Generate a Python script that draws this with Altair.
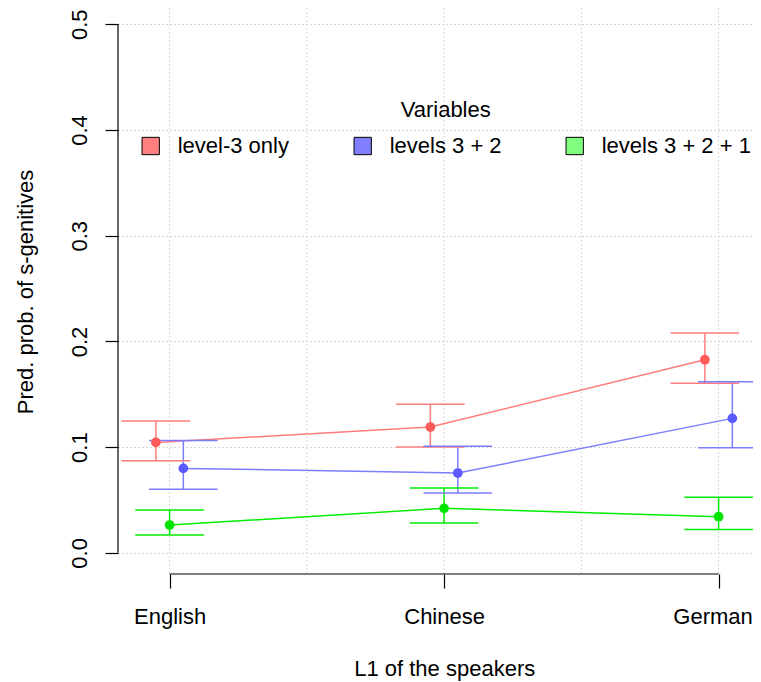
import json
import altair as alt
import pandas as pd

# ---- data ----
categories = ["English", "Chinese", "German"]
series = ["level-3 only", "levels 3 + 2", "levels 3 + 2 + 1"]

est_l3 = [0.1045, 0.119, 0.1827]
lo_l3 = [0.0871, 0.1001, 0.1604]
hi_l3 = [0.1247, 0.1405, 0.208]

est_l32 = [0.0799, 0.0755, 0.1272]
lo_l32 = [0.0601, 0.0566, 0.0994]
hi_l32 = [0.1064, 0.1008, 0.1619]

est_l321 = [0.0263, 0.0421, 0.0342]
lo_l321 = [0.0168, 0.0282, 0.0222]
hi_l321 = [0.0405, 0.0613, 0.0525]

y_ticks = [0.0, 0.1, 0.2, 0.3, 0.4, 0.5]
x_ticks = [1, 2, 3]
x_grid = [1, 1.5, 2, 2.5, 3]

# ---- style ----
dodge = [-0.05, 0.05, 0.0]
cap_half = 0.125
line_colors = ["#FF7C7C", "#7C7CFF", "#00EC00"]
point_colors = ["#FF5A5A", "#5A5AFF", "#00E400"]
legend_colors = ["#FF8080", "#8080FF", "#80FF80"]
FONT = "Liberation Sans"
W, H = 635, 566

rows = []
for s, est, lo, hi, d in zip(series,
                             [est_l3, est_l32, est_l321],
                             [lo_l3, lo_l32, lo_l321],
                             [hi_l3, hi_l32, hi_l321],
                             dodge):
    for i, c in enumerate(categories):
        xp = x_ticks[i] + d
        rows.append(dict(series=s, variable=s, cat=c, xpos=xp, xl=xp - cap_half,
                         xr=xp + cap_half, est=est[i], lo=lo[i], hi=hi[i]))
df = pd.DataFrame(rows)

xscale = alt.Scale(domain=[0.812, 0.812 + W / 274.5], nice=False, zero=False)
yscale = alt.Scale(domain=[-0.02, 0.5154], nice=False, zero=False)

label_expr = json.dumps(categories) + "[datum.value - 1]"
xaxis = alt.Axis(values=x_ticks, labelExpr=label_expr, domain=False, grid=False,
                 ticks=True, tickSize=14, tickColor="black", tickWidth=1.2,
                 labelFont=FONT, labelFontSize=22, labelColor="black",
                 labelPadding=18, labelFlush=False, labelOverlap=False,
                 labelOffset={"condition": {"test": "datum.value == 3", "value": -6},
                              "value": 0},
                 title="L1 of the speakers", titleFont=FONT, titleFontSize=22,
                 titleFontWeight="normal", titleColor="black",
                 titleX=326.2, titleY=101, titleBaseline="alphabetic",
                 titleAlign="center")
yaxis = alt.Axis(values=y_ticks, format=".1f", domain=False, grid=True,
                 gridColor="#CCCCCC", gridDash=[1.5, 2.5], gridWidth=1,
                 ticks=True, tickSize=13, tickColor="black", tickWidth=1.2,
                 labelFont=FONT, labelFontSize=22, labelColor="black",
                 labelAngle=270, labelAlign="center", labelBaseline="alphabetic",
                 labelPadding=18.6, labelFlush=False, labelOverlap=False,
                 title="Pred. prob. of s-genitives", titleFont=FONT,
                 titleFontSize=22, titleFontWeight="normal", titleColor="black",
                 titleAngle=270, titleX=-85.3, titleY=283.5,
                 titleAlign="center", titleBaseline="alphabetic")

X = lambda f: alt.X(f, scale=xscale, axis=xaxis)
Y = lambda f: alt.Y(f, scale=yscale, axis=yaxis)
# data-driven (sorted) domains, so these scales never merge with the legend's scale
stroke_enc = alt.Stroke("series:N", scale=alt.Scale(range=line_colors), legend=None)
fill_enc = alt.Fill("series:N", scale=alt.Scale(range=point_colors), legend=None)

# vertical dotted grid
vgrid = alt.Chart(pd.DataFrame({"g": x_grid})).mark_rule(
    color="#CCCCCC", strokeDash=[1.5, 2.5], strokeWidth=1
).encode(x=X("g:Q"), y=alt.value(0), y2=alt.value(H))

# R-style axis lines
xline = alt.Chart(pd.DataFrame({"a": [min(x_ticks)], "b": [max(x_ticks)]})).mark_rule(
    color="black", strokeWidth=1.2
).encode(x=X("a:Q"), x2="b:Q", y=alt.value(H))
yline = alt.Chart(pd.DataFrame({"a": [min(y_ticks)], "b": [max(y_ticks)]})).mark_rule(
    color="black", strokeWidth=1.2
).encode(y=Y("a:Q"), y2="b:Q", x=alt.value(0))

base = alt.Chart(df)

lines = base.mark_line(strokeWidth=1.5).encode(
    x=X("xpos:Q"), y=Y("est:Q"), stroke=stroke_enc, detail="series:N",
    order="xpos:Q")
stems = base.mark_rule(strokeWidth=1.5).encode(
    x=X("xpos:Q"), y=Y("lo:Q"), y2="hi:Q", stroke=stroke_enc)
caps_lo = base.mark_rule(strokeWidth=1.5).encode(
    x=X("xl:Q"), x2="xr:Q", y=Y("lo:Q"), stroke=stroke_enc)
caps_hi = base.mark_rule(strokeWidth=1.5).encode(
    x=X("xl:Q"), x2="xr:Q", y=Y("hi:Q"), stroke=stroke_enc)
points = base.mark_circle(size=95, opacity=1).encode(
    x=X("xpos:Q"), y=Y("est:Q"), fill=fill_enc)

legend_layer = base.transform_filter("false").mark_square(size=300).encode(
    x=X("xpos:Q"), y=Y("est:Q"),
    color=alt.Color("variable:N", scale=alt.Scale(domain=series, range=legend_colors),
                    legend=alt.Legend(
                        title="Variables", orient="none", legendX=21.7, legendY=92,
                        direction="horizontal", columns=3, gridAlign="all",
                        columnPadding=24, symbolType="square", symbolSize=300,
                        symbolStrokeColor="black", symbolStrokeWidth=1,
                        symbolOpacity=1,
                        labelOffset=16, labelFont=FONT,
                        labelFontSize=22, labelColor="black", titleFont=FONT,
                        titleFontSize=22, titleFontWeight="normal",
                        titleColor="black", titleAnchor="middle",
                        titleAlign="center", titlePadding=13, padding=0)))

chart = alt.layer(vgrid, xline, yline, lines, stems, caps_lo, caps_hi, points,
                  legend_layer).properties(
    width=W, height=H,
    autosize=alt.AutoSizeParams(type="none"),
    padding={"left": 110, "top": 0, "right": 0, "bottom": 107},
    background="white",
).configure_view(stroke=None)

chart.save("out.html", embed_options={"renderer": "svg", "actions": False})
